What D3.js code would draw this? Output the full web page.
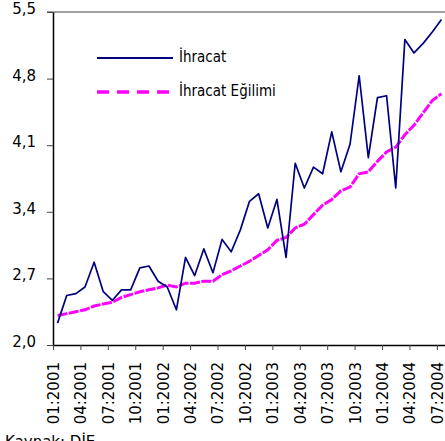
<!DOCTYPE html>
<html>
<head>
<meta charset="utf-8">
<script src="https://cdn.jsdelivr.net/npm/d3@7"></script>
<style>
  body { margin: 0; background: #fff; }
  svg { display: block; }
  .axis text { font-family: 'DejaVu Sans', sans-serif; font-size: 15px; fill: #000; }
  .legend text { font-family: 'DejaVu Sans Condensed', 'DejaVu Sans', sans-serif; font-size: 15px; fill: #000; }
</style>
</head>
<body>
<div id='chart'></div>

<script>
  // monthly values, 01:2001 - 07:2004
  var ihracat = [2.23, 2.52, 2.54, 2.61, 2.87, 2.56, 2.47, 2.58, 2.58, 2.81,
                 2.83, 2.67, 2.61, 2.37, 2.92, 2.73, 3.01, 2.76, 3.11, 2.98,
                 3.21, 3.51, 3.59, 3.23, 3.53, 2.92, 3.91, 3.65, 3.87, 3.80,
                 4.24, 3.82, 4.11, 4.83, 3.97, 4.60, 4.62, 3.65, 5.21, 5.07,
                 5.17, 5.29, 5.42]

  var egilim = [2.31, 2.33, 2.35, 2.37, 2.41, 2.43, 2.45, 2.50, 2.53, 2.56,
                2.58, 2.60, 2.63, 2.61, 2.65, 2.65, 2.67, 2.67, 2.74, 2.78,
                2.83, 2.88, 2.94, 3.00, 3.10, 3.13, 3.23, 3.27, 3.37, 3.47,
                3.53, 3.62, 3.66, 3.80, 3.82, 3.93, 4.03, 4.08, 4.21, 4.31,
                4.44, 4.57, 4.64]

  var tickLabels = ['01:2001', '04:2001', '07:2001', '10:2001', '01:2002',
                    '04:2002', '07:2002', '10:2002', '01:2003', '04:2003',
                    '07:2003', '10:2003', '01:2004', '04:2004', '07:2004']

  var yTicks = [2.0, 2.7, 3.4, 4.1, 4.8, 5.5]

  var seriesNames = ['İhracat', 'İhracat Eğilimi']

  var width = 445, height = 441
  var plotLeft = 53, plotRight = 446, plotTop = 12, plotBottom = 345

  var svg = d3.select('#chart')
              .append('svg')
              .attr('width', width)
              .attr('height', height)

  var x = d3.scaleLinear()
            .domain([0, ihracat.length])
            .range([plotLeft, plotRight])

  var y = d3.scaleLinear()
            .domain([2.0, 5.5])
            .range([plotBottom, plotTop])

  // top border
  svg.append('line')
     .attr('x1', plotLeft - 6).attr('x2', width)
     .attr('y1', y(5.5)).attr('y2', y(5.5))
     .attr('stroke', '#808080')
     .attr('stroke-width', 1.5)

  var yAxis = svg.append('g')
                 .attr('class', 'axis')
                 .attr('transform', 'translate(' + plotLeft + ',0)')
                 .call(d3.axisLeft(y)
                         .tickValues(yTicks)
                         .tickSize(6)
                         .tickSizeOuter(0)
                         .tickPadding(11)
                         .tickFormat(function(d) { return d3.format('.1f')(d).replace('.', ',') }))

  yAxis.select('.domain').attr('stroke', '#000').attr('stroke-width', 1.5)
  yAxis.selectAll('.tick line').attr('stroke', '#444')
  yAxis.selectAll('.tick text').attr('dy', '0.1em')

  var xAxis = svg.append('g')
                 .attr('class', 'axis')
                 .attr('transform', 'translate(0,' + plotBottom + ')')
                 .call(d3.axisBottom(x)
                         .tickValues(d3.range(0, ihracat.length, 3))
                         .tickSize(5)
                         .tickSizeOuter(0)
                         .tickFormat(function(d, i) { return tickLabels[i] }))

  xAxis.select('.domain').attr('stroke', '#000').attr('stroke-width', 1.5)
  xAxis.selectAll('.tick line').attr('stroke', '#444')
  xAxis.selectAll('.tick text')
       .attr('transform', 'rotate(-90)')
       .attr('text-anchor', 'end')
       .attr('x', -17)
       .attr('y', 0)
       .attr('dy', '0.36em')

  var line = d3.line()
               .x(function(d, i) { return x(i + 0.5) })
               .y(function(d) { return y(d) })

  svg.append('path')
     .datum(egilim)
     .attr('d', line)
     .attr('fill', 'none')
     .attr('stroke', '#ff00ff')
     .attr('stroke-width', 3)
     .attr('stroke-dasharray', '10,1.5')

  svg.append('path')
     .datum(ihracat)
     .attr('d', line)
     .attr('fill', 'none')
     .attr('stroke', '#000080')
     .attr('stroke-width', 1.7)
     .attr('stroke-linejoin', 'round')

  // legend
  var legend = svg.append('g').attr('class', 'legend')

  legend.append('line')
        .attr('x1', 97).attr('x2', 173)
        .attr('y1', 58).attr('y2', 58)
        .attr('stroke', '#000080')
        .attr('stroke-width', 2)

  legend.append('line')
        .attr('x1', 97).attr('x2', 173)
        .attr('y1', 92).attr('y2', 92)
        .attr('stroke', '#ff00ff')
        .attr('stroke-width', 3.5)
        .attr('stroke-dasharray', '12,8')

  legend.selectAll('text')
        .data(seriesNames)
        .enter()
        .append('text')
        .attr('x', 179)
        .attr('y', function(d, i) { return 62 + i * 34 })
        .text(function(d) { return d })

  svg.append('text')
     .attr('x', 5)
     .attr('y', 447)
     .style('font-family', "'DejaVu Sans', sans-serif")
     .style('font-size', '15px')
     .text('Kaynak: DİE')
</script>
</body>
</html>
